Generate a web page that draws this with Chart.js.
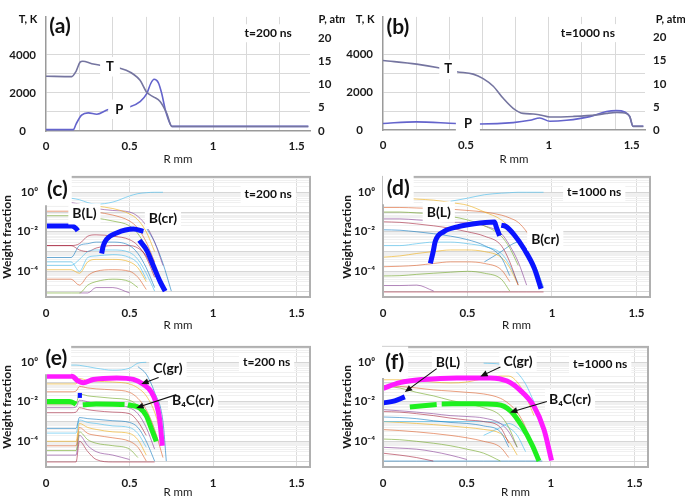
<!DOCTYPE html>
<html>
<head>
<meta charset="utf-8">
<script src="https://cdn.jsdelivr.net/npm/chart.js@4.4.1/dist/chart.umd.min.js"></script>
<style>
body { margin: 0; background: #fff; }
#wrap { position: relative; width: 685px; height: 499px; overflow: hidden; }
canvas { position: absolute; }
</style>
</head>
<body>
<div id="wrap">
  <canvas id="pa" style="left:0;top:0" width="345" height="166"></canvas>
  <canvas id="pb" style="left:340px;top:0" width="345" height="166"></canvas>
  <canvas id="pc" style="left:0;top:162px" width="345" height="170"></canvas>
  <canvas id="pd" style="left:340px;top:162px" width="345" height="170"></canvas>
  <canvas id="pe" style="left:0;top:332px" width="345" height="167"></canvas>
  <canvas id="pf" style="left:340px;top:332px" width="345" height="167"></canvas>
</div>
<script>
// ---- (a) t=200 ns : temperature and pressure ----
const aTR = [0, 0.154, 0.18, 0.204, 0.22, 0.274, 0.323, 0.443, 0.48, 0.523, 0.563, 0.603, 0.643, 0.683, 0.723, 0.753, 1.0, 1.3, 1.57];
const aT  = [2880, 2860, 3140, 3620, 3670, 3540, 3460, 3300, 3190, 2985, 2667, 2033, 1795, 1557, 920, 240, 240, 240, 240];
const aPR = [0, 0.164, 0.18, 0.213, 0.253, 0.304, 0.373, 0.503, 0.563, 0.603, 0.627, 0.647, 0.672, 0.693, 0.713, 0.743, 0.753, 1.0, 1.3, 1.57];
const aP  = [0.3, 0.3, 1.5, 3.4, 3.9, 3.6, 4.6, 5.2, 6.3, 8.0, 10.2, 11.1, 10.4, 8.0, 4.7, 1.5, 1.0, 1.0, 1.0, 1.0];

// ---- (b) t=1000 ns ----
const bTR = [0, 0.203, 0.343, 0.444, 0.544, 0.604, 0.665, 0.725, 0.785, 0.845, 0.906, 0.946, 1.006, 1.146, 1.287, 1.348, 1.408, 1.468, 1.488, 1.508, 1.57];
const bT  = [3690, 3495, 3285, 3090, 2965, 2725, 2320, 1680, 1150, 880, 850, 800, 690, 720, 800, 880, 930, 880, 720, 190, 190];
const bPR = [0, 0.2, 0.44, 0.584, 0.785, 0.886, 0.946, 1.006, 1.106, 1.247, 1.348, 1.408, 1.458, 1.488, 1.508, 1.57];
const bP  = [1.42, 1.75, 1.42, 1.3, 1.6, 2.1, 2.6, 1.9, 2.1, 2.9, 4.0, 4.2, 3.9, 2.9, 0.8, 0.8];

// ---- (c) t=200 ns : boron species ----
const cBLR = [0, 0.154, 0.18, 0.19];
const cBL  = [0.0195, 0.0195, 0.0148, 0.0112];
const cBcr1R = [0.333, 0.343, 0.363, 0.423, 0.523, 0.583];
const cBcr1  = [7.9e-4, 2.0e-3, 4.2e-3, 8.7e-3, 1.38e-2, 1.05e-2];
const cBcr2R = [0.559, 0.603, 0.643, 0.683, 0.713];
const cBcr2  = [3.7e-3, 1.15e-3, 1.86e-4, 3.0e-5, 1.0e-5];
const cR = [0, 0.15, 0.2, 0.25, 0.3, 0.4, 0.5, 0.55, 0.6, 0.65, 0.7, 0.75];
const cThin = [
  [null, 0.5, 0.42, 0.3, 0.25, 0.32, 0.65, 0.85, 0.95, 1.0, 1.0, null],
  [0.24, 0.24, 0.2, 0.22, 0.2, 0.15, 0.08, 0.04, 0.01, 1e-3, null, null],
  [0.11, 0.11, 0.13, 0.12, 0.1, 0.07, 0.035, 0.015, 3e-3, 3e-4, null, null],
  [0.065, 0.065, 0.05, 0.06, 0.05, 0.035, 0.02, 8e-3, 1.5e-3, 1e-4, null, null],
  [null, 0.3, 0.25, 0.18, 0.15, 0.12, 0.1, 0.06, 0.02, 3e-3, 2e-4, null],
  [2e-3, 2e-3, 2.5e-3, 6e-3, 7e-3, 6e-3, 4e-3, 2e-3, 5e-4, 5e-5, null, null],
  [5e-4, 5e-4, 2e-3, 2.5e-3, 3e-3, 3e-3, 2e-3, 8e-4, 1.5e-4, 1.5e-5, null, null],
  [2e-4, 2e-4, 4e-4, 1e-3, 1.2e-3, 1.2e-3, 9e-4, 4e-4, 8e-5, 1e-5, null, null],
  [1.2e-4, 1.2e-4, 8e-5, 3e-4, 4e-4, 4e-4, 3e-4, 1.5e-4, 3e-5, null, null, null],
  [4e-5, 4e-5, 2e-5, 6e-5, 1e-4, 1.2e-4, 1e-4, 5e-5, 1.2e-5, null, null, null],
  [8e-6, 8e-6, 8e-6, 2e-5, 3e-5, 4e-5, 3e-5, 1.5e-5, null, null, null, null],
  [null, null, 8e-6, 8e-6, 1.5e-5, 1.5e-5, 8e-6, null, null, null, null, null],
  [2e-3, 2e-3, 1.2e-3, 1e-3, 1.5e-3, 2e-3, 2e-3, 1.5e-3, 6e-4, 8e-5, 1e-5, null],
  [null, null, null, null, null, null, null, null, 0.016, 3e-3, 2.5e-4, 1e-5],
  [3e-4, 3e-4, 1e-4, 5e-4, 6e-4, 7e-4, 5e-4, 2.5e-4, 4e-5, null, null, null]
];

// ---- (d) t=1000 ns ----
const dBLR = [0.28, 0.296, 0.31, 0.36, 0.44, 0.54, 0.66, 0.67, 0.69];
const dBL  = [2.5e-4, 9.1e-4, 3.4e-3, 1.02e-2, 1.78e-2, 2.57e-2, 3.1e-2, 1.78e-2, 6.3e-3];
const dBcrR = [0.70, 0.725, 0.776, 0.836, 0.895, 0.935];
const dBcr  = [2.1e-2, 1.9e-2, 7.1e-3, 1.3e-3, 1.45e-4, 1.3e-5];
const dR = [0, 0.1, 0.2, 0.3, 0.4, 0.5, 0.6, 0.7, 0.75, 0.8, 0.85, 0.9, 0.95, 1.0];
const dThin = [
  [null, null, null, null, 0.35, 0.5, 0.75, 0.9, 0.95, 1.0, 1.0, 1.0, 1.0, null],
  [0.5, 0.5, 0.45, 0.4, 0.3, 0.22, 0.1, 0.04, 0.015, 3e-3, null, null, null, null],
  [0.17, 0.17, 0.16, 0.15, 0.14, 0.12, 0.1, 0.07, 0.05, 0.03, 0.01, 2e-3, null, null],
  [0.1, 0.1, 0.09, 0.08, 0.06, 0.04, 0.02, 6e-3, 1.5e-3, 2e-4, null, null, null, null],
  [0.045, 0.045, 0.04, 0.035, 0.03, 0.03, 0.02, 8e-3, 2e-3, 3e-4, 2e-5, null, null, null],
  [0.032, 0.03, 0.025, 0.02, 0.015, 0.01, 6e-3, 2e-3, 3e-4, 2e-5, null, null, null, null],
  [0.0126, 0.012, 0.01, 8e-3, 6e-3, 4e-3, 2e-3, 5e-4, 6e-5, null, null, null, null, null],
  [2e-3, 2e-3, 2.5e-3, 3e-3, 3e-3, 2.5e-3, 1.8e-3, 8e-4, 2e-4, 2.5e-5, null, null, null, null],
  [5.2e-4, 6e-4, 8e-4, 1e-3, 1.2e-3, 1.2e-3, 1e-3, 5e-4, 1.5e-4, 2e-5, null, null, null, null],
  [1.7e-4, 1.8e-4, 2e-4, 2.5e-4, 3e-4, 3e-4, 2.5e-4, 1.2e-4, 3e-5, null, null, null, null, null],
  [5.8e-5, 6e-5, 7e-5, 8e-5, 9e-5, 1e-4, 8e-5, 4e-5, 1e-5, null, null, null, null, null],
  [1.9e-5, 1.9e-5, 2e-5, 1e-5, null, null, null, null, null, null, null, null, null, null],
  [9e-6, 9e-6, 9e-6, 9e-6, 9e-6, 9e-6, 9e-6, 9e-6, 9e-6, 9e-6, 9e-6, 9e-6, 9e-6, null],
  [null, null, null, null, null, null, 3e-4, 1e-3, 2e-3, 3e-3, 1e-3, 2e-4, 1.5e-5, null]
];

// ---- (e) t=200 ns : carbon species ----
const eCgrR = [0, 0.154, 0.193, 0.223, 0.283, 0.423, 0.523, 0.58, 0.63, 0.66, 0.68, 0.696];
const eCgr  = [0.195, 0.195, 0.112, 0.093, 0.135, 0.162, 0.135, 0.079, 0.032, 8.5e-3, 1.35e-3, 5.9e-5];
const eB4C1R = [0, 0.14, 0.17, 0.18];
const eB4C1  = [0.0102, 0.0102, 8.5e-3, 7.5e-3];
const eB4C2R = [0.22, 0.3, 0.4, 0.47];
const eB4C2  = [7.0e-3, 7.8e-3, 7.6e-3, 7.2e-3];
const eB4C3R = [0.49, 0.56, 0.6, 0.63, 0.66];
const eB4C3  = [7.1e-3, 4.9e-3, 2.0e-3, 4.5e-4, 1.0e-4];
const eBLR = [0.19, 0.215];
const eBL  = [0.021, 0.021];
const eR = [0, 0.15, 0.18, 0.2, 0.25, 0.3, 0.4, 0.5, 0.55, 0.6, 0.65, 0.7, 0.72];
const eThin = [
  [0.72, 0.72, 0.72, 0.7, 0.6, 0.5, 0.4, 0.5, 0.9, 1.0, null, null, null],
  [0.08, 0.08, 0.08, 0.15, 0.12, 0.11, 0.1, 0.08, 0.05, 0.02, 3e-3, 1e-4, null],
  [0.032, 0.032, 0.035, 0.06, 0.05, 0.045, 0.04, 0.03, 0.015, 4e-3, 4e-4, 1.5e-5, null],
  [7e-3, 7e-3, 8e-3, 0.025, 0.02, 0.018, 0.015, 0.012, 6e-3, 1.5e-3, 1e-4, null, null],
  [5e-3, 5e-3, 5.5e-3, 0.012, 0.01, 8e-3, 7e-3, 5e-3, 2.5e-3, 5e-4, 4e-5, null, null],
  [2.8e-3, 2.8e-3, 3e-3, 5e-3, 4e-3, 3.5e-3, 3e-3, 2.5e-3, 1e-3, 2e-4, null, null, null],
  [4.5e-4, 4.5e-4, 4.5e-4, 1.6e-3, 1.4e-3, 1.3e-3, 1.1e-3, 9e-4, 5e-4, 1e-4, 1e-5, null, null],
  [2.6e-4, 2.6e-4, 2.6e-4, 1.2e-3, 9e-4, 8e-4, 6e-4, 5e-4, 2.5e-4, 5e-5, null, null, null],
  [1e-4, 1e-4, 1e-4, 8e-4, 5e-4, 4e-4, 3e-4, 2.5e-4, 1.2e-4, 2e-5, null, null, null],
  [5.9e-5, 5.9e-5, 5.9e-5, 5e-4, 2.5e-4, 2e-4, 1.5e-4, 1e-4, 5e-5, 1e-5, null, null, null],
  [3.4e-5, 3.4e-5, 3.4e-5, 3e-4, 1.2e-4, 8e-5, 6e-5, 4e-5, 1.5e-5, null, null, null, null],
  [2e-5, 2e-5, 2e-5, 2e-4, 6e-5, 3e-5, 2e-5, 1.2e-5, null, null, null, null, null],
  [9e-6, 9e-6, 9e-6, 1e-4, 3e-5, 1.2e-5, 9e-6, 9e-6, 9e-6, 9e-6, 9e-6, null, null],
  [null, null, null, null, null, null, null, null, 0.6, 0.25, 0.03, 1e-3, 1e-5]
];

// ---- (f) t=1000 ns ----
const fCgrR = [0.0, 0.1, 0.24, 0.44, 0.64, 0.74, 0.82, 0.9, 0.96, 1.005];
const fCgr  = [0.048, 0.093, 0.135, 0.162, 0.162, 0.112, 0.037, 6e-3, 3.9e-4, 1.07e-5];
const fB4C1R = [0.16, 0.32];
const fB4C1  = [5.4e-3, 7.2e-3];
const fB4C2R = [0.35, 0.54, 0.68, 0.76, 0.83, 0.89, 0.93];
const fB4C2  = [7.8e-3, 7.9e-3, 7.2e-3, 3.5e-3, 5.6e-4, 6.3e-5, 1.0e-5];
const fBLR = [0.0, 0.07, 0.13];
const fBL  = [8.7e-3, 1.12e-2, 1.78e-2];
const fR = [0, 0.1, 0.2, 0.3, 0.4, 0.5, 0.6, 0.7, 0.75, 0.8, 0.85, 0.9, 0.95, 1.0];
const fThin = [
  [null, null, null, null, null, null, 0.9, 0.8, 0.6, 0.3, 0.08, 0.01, null, null],
  [0.13, 0.13, 0.12, 0.1, 0.09, 0.1, 0.15, 0.2, 0.2, 0.1, 0.02, 2e-3, null, null],
  [0.065, 0.06, 0.05, 0.04, 0.035, 0.03, 0.025, 0.015, 8e-3, 3e-3, 5e-4, 3e-5, null, null],
  [0.065, 0.05, 0.03, 0.02, 0.012, 8e-3, 5e-3, 2e-3, 5e-4, 5e-5, null, null, null, null],
  [4e-3, 3.5e-3, 3e-3, 2.5e-3, 2e-3, 1.8e-3, 1.5e-3, 8e-4, 3e-4, 5e-5, null, null, null, null],
  [3.2e-3, 3e-3, 2.5e-3, 2e-3, 1.5e-3, 1.2e-3, 1e-3, 5e-4, 8e-5, null, null, null, null, null],
  [1.7e-3, 1.6e-3, 1.4e-3, 1.1e-3, 9e-4, 8e-4, 6e-4, 3e-4, 5e-5, null, null, null, null, null],
  [1e-3, 1e-3, 1e-3, 1e-3, 1e-3, 1e-3, 1e-3, 8e-4, 5e-4, 2e-4, 3e-5, null, null, null],
  [1e-3, 9e-4, 8e-4, 7e-4, 6e-4, 5e-4, 4e-4, 2.5e-4, 1e-4, 2e-5, null, null, null, null],
  [3.9e-4, 3.5e-4, 3e-4, 2.5e-4, 2e-4, 1.5e-4, 1e-4, 5e-5, 1.5e-5, null, null, null, null, null],
  [1.3e-4, 1.2e-4, 1e-4, 8e-5, 6e-5, 4e-5, 2.5e-5, 1e-5, null, null, null, null, null, null],
  [5e-5, 4.5e-5, 4e-5, 3e-5, 2e-5, 1.2e-5, null, null, null, null, null, null, null, null],
  [2.5e-5, 2e-5, 1.5e-5, 1e-5, null, null, null, null, null, null, null, null, null, null],
  [1e-5, 1e-5, 1e-5, 1e-5, 1e-5, 1e-5, 1e-5, 1e-5, 1e-5, 1e-5, 1e-5, 1e-5, 1e-5, null],
  [null, null, null, null, null, null, 2e-4, 5e-4, 8e-4, 5e-4, 2e-4, 5e-5, null, null]
];

// axis ticks
const xTicksTP = [0, 0.2, 0.4, 0.5, 0.6, 0.8, 1, 1.2, 1.4, 1.5];
const xGridTP = [0.2, 0.4, 0.6, 0.8, 1, 1.2, 1.4];
const xLabels = [0, 0.5, 1, 1.5];
const tTicks = [0, 1000, 2000, 3000, 4000, 5000, 6000];
const tLabels = [0, 2000, 4000];
const pTicks = [0, 5, 10, 15, 20];
const decades = [1e-5, 1e-4, 1e-3, 1e-2, 1e-1, 1];
const logLabelVals = [1, 1e-2, 1e-4];
const logLabelText = ['10⁰', '10⁻²', '10⁻⁴'];

const FONT = "Lato, 'DejaVu Sans', sans-serif";
const PAL = ['rgba(77,190,238,0.8)', 'rgba(237,177,32,0.8)', 'rgba(217,83,25,0.7)', 'rgba(119,172,48,0.8)',
             'rgba(126,47,142,0.7)', 'rgba(162,20,47,0.7)', 'rgba(0,114,189,0.7)'];
const BLUE = '#0a14ff', MAG = '#ff1aff', GRN = '#1ef01e';

Chart.defaults.font.family = FONT;
Chart.defaults.font.size = 11.5;
Chart.defaults.font.weight = 'bold';
Chart.defaults.color = '#1a1a1a';
Chart.defaults.animation = false;
Chart.defaults.plugins.legend.display = false;
Chart.defaults.plugins.tooltip.enabled = false;
Chart.defaults.elements.point.radius = 0;
Chart.defaults.elements.line.cubicInterpolationMode = 'monotone';

const pts = (xs, ys) => xs.map((x, i) => ({ x: x, y: ys[i] }));
const fix = n => s => { if (s.isHorizontal()) s.height = n; else s.width = n; };
const xLabel = v => xLabels.includes(v) ? String(v) : '';

// labels, arrows and frames drawn on top of the lines
const notes = {
  id: 'notes',
  afterDatasetsDraw(chart, args, o) {
    const ctx = chart.ctx, xs = chart.scales.x, ys = chart.scales.y;
    const ca = chart.chartArea;
    ctx.save();
    if (o.frame) {
      ctx.strokeStyle = '#b0b0b0';
      ctx.lineWidth = 2;
      ctx.strokeRect(ca.left, ca.top, ca.right - ca.left, ca.bottom - ca.top);
    }
    (o.labels || []).forEach(l => {
      const size = l.size || 13;
      ctx.font = 'bold ' + size + 'px ' + FONT;
      const x = xs.getPixelForValue(l.x), y = ys.getPixelForValue(l.y);
      const w = ctx.measureText(l.t).width;
      if (l.bg !== false) {
        const px = l.px || 4;
        ctx.fillStyle = '#fff';
        ctx.fillRect(x - w / 2 - px, y - size * 0.75, w + px * 2, size * 1.5);
      }
      ctx.fillStyle = '#111';
      ctx.textAlign = 'center';
      ctx.textBaseline = 'middle';
      ctx.fillText(l.t, x, y);
    });
    (o.arrows || []).forEach(a => {
      const x1 = xs.getPixelForValue(a[0]), y1 = ys.getPixelForValue(a[1]);
      const x2 = xs.getPixelForValue(a[2]), y2 = ys.getPixelForValue(a[3]);
      const ang = Math.atan2(y2 - y1, x2 - x1);
      ctx.strokeStyle = '#111';
      ctx.fillStyle = '#111';
      ctx.lineWidth = 1.1;
      ctx.beginPath();
      ctx.moveTo(x1, y1);
      ctx.lineTo(x2 - 5 * Math.cos(ang), y2 - 5 * Math.sin(ang));
      ctx.stroke();
      ctx.beginPath();
      ctx.moveTo(x2, y2);
      ctx.lineTo(x2 - 8 * Math.cos(ang - 0.4), y2 - 8 * Math.sin(ang - 0.4));
      ctx.lineTo(x2 - 8 * Math.cos(ang + 0.4), y2 - 8 * Math.sin(ang + 0.4));
      ctx.closePath();
      ctx.fill();
    });
    ctx.restore();
  }
};

function tpChart(id, TR, T, PR, P, yW, y2W, xH, top, labels) {
  return new Chart(document.getElementById(id), {
    type: 'line',
    data: {
      datasets: [
        { data: pts(TR, T), yAxisID: 'y', borderColor: '#7575a0', borderWidth: 1.6 },
        { data: pts(PR, P), yAxisID: 'y2', borderColor: '#6464cc', borderWidth: 1.6 }
      ]
    },
    options: {
      responsive: false,
      layout: { padding: { top: top, left: 0, right: 0, bottom: 0 } },
      scales: {
        x: {
          type: 'linear', min: 0, max: 1.58,
          afterBuildTicks: s => { s.ticks = xTicksTP.map(v => ({ value: v })); },
          afterFit: fix(xH),
          grid: { color: c => (c.tick && xGridTP.includes(c.tick.value)) ? '#d9d9d9' : 'rgba(0,0,0,0)', drawTicks: false },
          border: { color: '#9a9a9a', width: 1.5 },
          ticks: { padding: 8, autoSkip: false, maxRotation: 0, callback: xLabel },
          title: { display: true, text: 'R mm', padding: 0, font: { size: 11.5, weight: 'normal' } }
        },
        y: {
          type: 'linear', position: 'left', min: 0, max: 6000,
          afterBuildTicks: s => { s.ticks = tTicks.map(v => ({ value: v })); },
          afterFit: fix(yW),
          grid: { color: c => (c.tick && c.tick.value > 0 && c.tick.value < 5000) ? '#d9d9d9' : 'rgba(0,0,0,0)', drawTicks: false },
          border: { color: '#9a9a9a', width: 1.5 },
          ticks: { padding: 10, crossAlign: 'center', autoSkip: false, callback: v => tLabels.includes(v) ? String(v) : '' }
        },
        y2: {
          type: 'linear', position: 'right', min: 0, max: 24.5,
          afterBuildTicks: s => { s.ticks = pTicks.map(v => ({ value: v })); },
          afterFit: fix(y2W),
          grid: { drawOnChartArea: false, drawTicks: false },
          border: { display: false },
          ticks: { padding: 8, autoSkip: false }
        }
      },
      plugins: { notes: { labels: labels } }
    },
    plugins: [notes]
  });
}

function thinSets(R, rows) {
  return rows.map((r, i) => ({ data: pts(R, r), borderColor: PAL[i % PAL.length], borderWidth: 0.8, order: 2 }));
}
function thick(R, v, color) {
  return { data: pts(R, v), borderColor: color, borderWidth: 5, order: 0 };
}

function logChart(id, sets, yW, padR, xH, top, labels, arrows) {
  return new Chart(document.getElementById(id), {
    type: 'line',
    data: { datasets: sets },
    options: {
      responsive: false,
      layout: { padding: { top: top, left: 0, right: padR, bottom: 0 } },
      scales: {
        x: {
          type: 'linear', min: 0, max: 1.58,
          afterBuildTicks: s => { s.ticks = xLabels.map(v => ({ value: v })); },
          afterFit: fix(xH),
          grid: { color: c => (c.tick && c.tick.value > 0) ? '#dcdcdc' : 'rgba(0,0,0,0)', drawTicks: false },
          border: { display: false },
          ticks: { padding: 9, autoSkip: false, maxRotation: 0, callback: xLabel },
          title: { display: true, text: 'R mm', padding: 0, font: { size: 11.5, weight: 'normal' } }
        },
        y: {
          type: 'logarithmic', min: 5e-6, max: 6,
          afterBuildTicks: s => {
            const t = [];
            decades.forEach(d => { for (let k = 1; k < 10; k++) t.push({ value: d * k }); });
            s.ticks = t.filter(o => o.value >= 5e-6 && o.value <= 6);
          },
          afterFit: fix(yW),
          grid: { color: c => (c.tick && decades.includes(c.tick.value)) ? '#d6d6d6' : '#f0f0f0', drawTicks: false },
          border: { display: false },
          ticks: {
            padding: 8, autoSkip: false,
            callback: v => { const i = logLabelVals.indexOf(v); return i >= 0 ? logLabelText[i] : ''; }
          },
          title: { display: true, text: 'Weight fraction', padding: 0, font: { size: 12, weight: 'bold' } }
        }
      },
      plugins: { notes: { frame: true, labels: labels, arrows: arrows || [] } }
    },
    plugins: [notes]
  });
}

tpChart('pa', aTR, aT, aPR, aP, 46, 35, 35, 5, [
  { t: '(a)', x: 0.084, y: 5520, size: 21, bg: false },
  { t: 't=200 ns', x: 1.33, y: 5140, size: 12 },
  { t: 'T', x: 0.383, y: 3380, px: 6 },
  { t: 'P', x: 0.438, y: 1140, px: 7 },
  { t: 'T, K', x: -0.108, y: 5860, size: 11, bg: false },
  { t: 'P, atm', x: 1.72, y: 5860, size: 11, bg: false }
]);

tpChart('pb', bTR, bT, bPR, bP, 43, 40, 36, 5, [
  { t: '(b)', x: 0.09, y: 5430, size: 21, bg: false },
  { t: 't=1000 ns', x: 1.235, y: 5140, size: 12 },
  { t: 'T', x: 0.393, y: 3220, px: 5 },
  { t: 'P', x: 0.512, y: 340, px: 8 },
  { t: 'T, K', x: -0.108, y: 5860, size: 11, bg: false },
  { t: 'P, atm', x: 1.735, y: 5860, size: 11, bg: false }
]);

logChart('pc', [
  thick(cBLR, cBL, BLUE), thick(cBcr1R, cBcr1, BLUE), thick(cBcr2R, cBcr2, BLUE)
].concat(thinSets(cR, cThin)), 46, 35, 35, 8, [
  { t: '(c)', x: 0.068, y: 1.38, size: 21 },
  { t: 't=200 ns', x: 1.33, y: 0.8, size: 12 },
  { t: 'B(L)', x: 0.23, y: 0.08, size: 14 },
  { t: 'B(cr)', x: 0.7, y: 0.047, size: 14 }
]);

logChart('pd', [
  thick(dBLR, dBL, BLUE), thick(dBcrR, dBcr, BLUE)
].concat(thinSets(dR, dThin)), 43, 35, 35, 8, [
  { t: '(d)', x: 0.09, y: 1.55, size: 21 },
  { t: 't=1000 ns', x: 1.25, y: 1, size: 12 },
  { t: 'B(L)', x: 0.33, y: 0.098, size: 14 },
  { t: 'B(cr)', x: 0.96, y: 3.9e-3, size: 14 }
]);

logChart('pe', [
  thick(eCgrR, eCgr, MAG), thick(eB4C1R, eB4C1, GRN), thick(eB4C2R, eB4C2, GRN), thick(eB4C3R, eB4C3, GRN), thick(eBLR, eBL, BLUE)
].concat(thinSets(eR, eThin)), 46, 35, 32, 8, [
  { t: '(e)', x: 0.062, y: 1.55, size: 21 },
  { t: 't=200 ns', x: 1.32, y: 1, size: 12 },
  { t: 'C(gr)', x: 0.73, y: 0.51, size: 14 },
  { t: 'B₄C(cr)', x: 0.88, y: 0.012, size: 14 }
], [[0.674, 0.17, 0.57, 0.079], [0.78, 0.023, 0.54, 4.9e-3]]);

logChart('pf', [
  thick(fCgrR, fCgr, MAG), thick(fB4C1R, fB4C1, GRN), thick(fB4C2R, fB4C2, GRN), thick(fBLR, fBL, BLUE)
].concat(thinSets(fR, fThin)), 43, 37, 32, 8, [
  { t: '(f)', x: 0.07, y: 1, size: 21 },
  { t: 't=1000 ns', x: 1.295, y: 0.8, size: 12 },
  { t: 'B(L)', x: 0.387, y: 1, size: 14 },
  { t: 'C(gr)', x: 0.805, y: 1.1, size: 14 },
  { t: 'B₄C(cr)', x: 1.115, y: 0.0126, size: 14 }
], [[0.32, 0.48, 0.13, 0.031], [0.7, 0.58, 0.58, 0.19], [0.977, 0.0103, 0.757, 2.9e-3]]);
</script>
</body>
</html>
